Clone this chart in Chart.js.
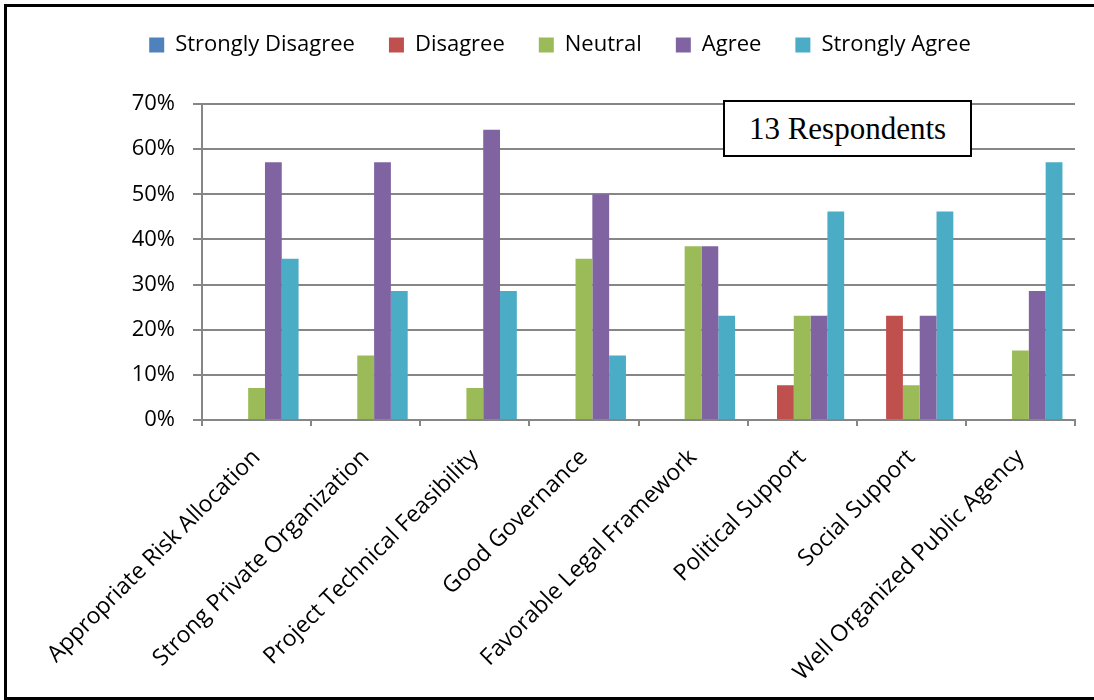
<!DOCTYPE html>
<html>
<head>
<meta charset="utf-8">
<script src="https://cdn.jsdelivr.net/npm/chart.js@4.4.1/dist/chart.umd.min.js"></script>
<style>
  html, body { margin: 0; padding: 0; background: #fff; }
  #wrap { position: relative; width: 1094px; height: 700px; overflow: hidden; }
  #frame { position: absolute; left: 4px; top: 4px; width: 1100px; height: 696px; border: 3px solid #000; box-sizing: border-box; pointer-events: none; }
  #note { position: absolute; left: 723px; top: 100px; width: 249px; height: 57px; box-sizing: border-box;
          border: 2px solid #000; background: #fff; font-family: "Liberation Serif", "Times New Roman", serif;
          font-size: 31px; line-height: 53px; text-align: center; color: #000; }
  canvas { position: absolute; left: 0; top: 0; }
</style>
</head>
<body>
<div id="wrap">
  <canvas id="c" width="1094" height="700"></canvas>
  <div id="frame"></div>
  <div id="note">13 Respondents</div>
</div>
<script>
// Survey factors (x-axis categories)
const categories = [
  "Appropriate Risk Allocation",
  "Strong Private Organization",
  "Project Technical Feasibility",
  "Good Governance",
  "Favorable Legal Framework",
  "Political Support",
  "Social Support",
  "Well Organized Public Agency"
];

// Share of respondents per answer, in percent
const stronglyDisagree = [0, 0, 0, 0, 0, 0, 0, 0];
const disagree         = [0, 0, 0, 0, 0, 7.7, 23.1, 0];
const neutral          = [7.1, 14.3, 7.1, 35.7, 38.5, 23.1, 7.7, 15.4];
const agree            = [57.1, 57.1, 64.3, 50.0, 38.5, 23.1, 23.1, 28.6];
const stronglyAgree    = [35.7, 28.6, 28.6, 14.3, 23.1, 46.2, 46.2, 57.1];

const seriesNames = ["Strongly Disagree", "Disagree", "Neutral", "Agree", "Strongly Agree"];
const yTicks = [0, 10, 20, 30, 40, 50, 60, 70];

const colors = ["#4F81BD", "#C0504D", "#9BBB59", "#8064A2", "#4BACC6"];
const seriesData = [stronglyDisagree, disagree, neutral, agree, stronglyAgree];

const FONT = "Open Sans";
const PAD_LEFT = 45;
const LEGEND_GAP = 38; // extra space between legend row and plot

// Adds blank space under the legend row
const legendGap = {
  id: "legendGap",
  beforeLayout(chart) {
    const lg = chart.legend;
    if (lg && !lg._gapWrapped) {
      const fit = lg.fit;
      lg.fit = function () { fit.call(this); this.height += LEGEND_GAP; };
      lg._gapWrapped = true;
    }
  }
};

new Chart(document.getElementById("c"), {
  type: "bar",
  data: {
    labels: categories,
    datasets: seriesNames.map((name, i) => ({
      label: name,
      data: seriesData[i],
      backgroundColor: colors[i],
      borderWidth: 0,
      categoryPercentage: 0.77,
      barPercentage: 1.0
    }))
  },
  plugins: [legendGap],
  options: {
    responsive: false,
    animation: false,
    devicePixelRatio: 1,
    layout: { padding: { left: PAD_LEFT, right: 19, top: 0, bottom: 0 } },
    plugins: {
      legend: {
        position: "top",
        labels: {
          boxWidth: 15,
          boxHeight: 15,
          padding: 34,
          color: "#000",
          font: { family: FONT, size: 22 }
        }
      },
      tooltip: { enabled: false }
    },
    scales: {
      x: {
        grid: {
          display: true,
          drawOnChartArea: false,
          drawTicks: true,
          tickLength: 6,
          color: "#868686",
          lineWidth: 2,
          offset: true
        },
        border: { color: "#868686", width: 2 },
        ticks: {
          color: "#000",
          font: { family: FONT, size: 23 },
          minRotation: 45,
          maxRotation: 45,
          padding: 18,
          autoSkip: false
        },
        afterFit(scale) { scale.height = 280; }
      },
      y: {
        min: 0,
        max: 70,
        afterBuildTicks(scale) { scale.ticks = yTicks.map(v => ({ value: v })); },
        grid: { color: "#868686", lineWidth: 2, tickLength: 9 },
        border: { color: "#868686", width: 2 },
        ticks: {
          color: "#000",
          font: { family: FONT, size: 22 },
          padding: 18,
          callback: v => v + "%"
        },
        afterFit(scale) { scale.width = 202 - PAD_LEFT; }
      }
    }
  }
});
</script>
</body>
</html>
